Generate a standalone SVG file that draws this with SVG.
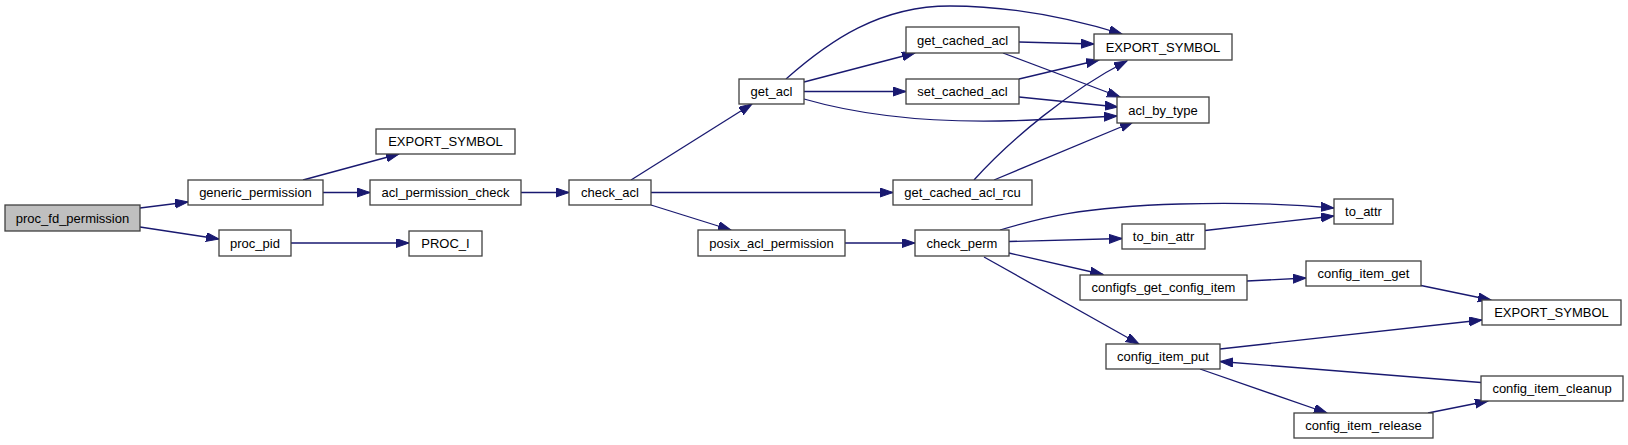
<svg xmlns="http://www.w3.org/2000/svg" width="1628" height="445" viewBox="0 0 1628 445">
<style>
.n rect{fill:#ffffff;stroke:#404040;stroke-width:1.3}
.n.h rect{fill:#bfbfbf}
.n text{font-family:"Liberation Sans",Arial,sans-serif;font-size:13px;fill:#000;text-anchor:middle}
#edges path{fill:none;stroke:#191970;stroke-width:1.3;marker-end:url(#ah)}
</style>
<defs>
<marker id="ah" markerUnits="userSpaceOnUse" markerWidth="14" markerHeight="10" refX="13" refY="4.5" orient="auto">
<path d="M0,0 L13,4.5 L0,9 z" fill="#191970" stroke="#191970" stroke-width="1"/>
</marker>
</defs>
<rect width="1628" height="445" fill="#ffffff"/>
<g id="edges">
<path d="M140,208 L188,202"/>
<path d="M140,227 L219,239"/>
<path d="M303,180 L399,154"/>
<path d="M323,192.5 L370,192.5"/>
<path d="M521,192.5 L569,192.5"/>
<path d="M291,243 L409,243"/>
<path d="M631,180 L752,104"/>
<path d="M651,192.5 L893,192.5"/>
<path d="M651,205 L731,230"/>
<path d="M845,243 L915,243"/>
<path d="M804,82 L915,53"/>
<path d="M804,91.5 L906,91.5"/>
<path d="M786,79 C830,40 880,6 950,6 C1010,6 1070,18 1122,34"/>
<path d="M804,99 C870,118 940,122 1000,121 C1040,120 1080,118 1117,116"/>
<path d="M1019,42 L1094,44"/>
<path d="M1003,53 L1120,97"/>
<path d="M1019,79 L1099,60"/>
<path d="M1019,97 L1118,107"/>
<path d="M974,180 C1010,140 1070,90 1127,61"/>
<path d="M994,180 L1133,122"/>
<path d="M1000,230 C1040,218 1080,207 1180,204 C1250,202 1300,205 1334,208"/>
<path d="M1009,241.5 L1122,238.5"/>
<path d="M1205,230.5 L1334,216"/>
<path d="M1009,253 L1103,274.5"/>
<path d="M984,257 L1139,344"/>
<path d="M1247,281 L1306,278"/>
<path d="M1421,285.5 L1491,300"/>
<path d="M1220,349 L1482,320"/>
<path d="M1481,382.5 L1220,361.5"/>
<path d="M1200,369 L1327,413"/>
<path d="M1428,413 L1488,401"/>
</g>
<g id="n_proc_fd_permission" class="n h"><rect x="5" y="205" width="135" height="26"/><text x="72.5" y="222.5">proc_fd_permission</text></g>
<g id="n_generic_permission" class="n"><rect x="188" y="180" width="135" height="25"/><text x="255.5" y="197">generic_permission</text></g>
<g id="n_proc_pid" class="n"><rect x="219" y="230" width="72" height="26"/><text x="255" y="247.5">proc_pid</text></g>
<g id="n_export_symbol_1" class="n"><rect x="376" y="129" width="139" height="25"/><text x="445.5" y="146">EXPORT_SYMBOL</text></g>
<g id="n_acl_permission_check" class="n"><rect x="370" y="180" width="151" height="25"/><text x="445.5" y="197">acl_permission_check</text></g>
<g id="n_proc_i" class="n"><rect x="409" y="231" width="73" height="25"/><text x="445.5" y="248">PROC_I</text></g>
<g id="n_check_acl" class="n"><rect x="569" y="180" width="82" height="25"/><text x="610" y="197">check_acl</text></g>
<g id="n_get_acl" class="n"><rect x="739" y="79" width="65" height="25"/><text x="771.5" y="96">get_acl</text></g>
<g id="n_get_cached_acl_rcu" class="n"><rect x="893" y="180" width="139" height="25"/><text x="962.5" y="197">get_cached_acl_rcu</text></g>
<g id="n_posix_acl_permission" class="n"><rect x="698" y="230" width="147" height="26"/><text x="771.5" y="247.5">posix_acl_permission</text></g>
<g id="n_check_perm" class="n"><rect x="915" y="230" width="94" height="26"/><text x="962" y="247.5">check_perm</text></g>
<g id="n_get_cached_acl" class="n"><rect x="906" y="27" width="113" height="26"/><text x="962.5" y="44.5">get_cached_acl</text></g>
<g id="n_set_cached_acl" class="n"><rect x="906" y="79" width="113" height="25"/><text x="962.5" y="96">set_cached_acl</text></g>
<g id="n_export_symbol_2" class="n"><rect x="1094" y="34" width="138" height="26"/><text x="1163" y="51.5">EXPORT_SYMBOL</text></g>
<g id="n_acl_by_type" class="n"><rect x="1117" y="97" width="92" height="26"/><text x="1163" y="114.5">acl_by_type</text></g>
<g id="n_to_attr" class="n"><rect x="1334" y="199" width="59" height="25"/><text x="1363.5" y="216">to_attr</text></g>
<g id="n_to_bin_attr" class="n"><rect x="1122" y="224" width="83" height="25"/><text x="1163.5" y="241">to_bin_attr</text></g>
<g id="n_configfs_get_config_item" class="n"><rect x="1080" y="275" width="167" height="25"/><text x="1163.5" y="292">configfs_get_config_item</text></g>
<g id="n_config_item_get" class="n"><rect x="1306" y="261" width="115" height="25"/><text x="1363.5" y="278">config_item_get</text></g>
<g id="n_config_item_put" class="n"><rect x="1106" y="344" width="114" height="25"/><text x="1163" y="361">config_item_put</text></g>
<g id="n_export_symbol_3" class="n"><rect x="1482" y="300" width="139" height="25"/><text x="1551.5" y="317">EXPORT_SYMBOL</text></g>
<g id="n_config_item_cleanup" class="n"><rect x="1481" y="376" width="142" height="25"/><text x="1552" y="393">config_item_cleanup</text></g>
<g id="n_config_item_release" class="n"><rect x="1294" y="413" width="139" height="25"/><text x="1363.5" y="430">config_item_release</text></g>
</svg>
